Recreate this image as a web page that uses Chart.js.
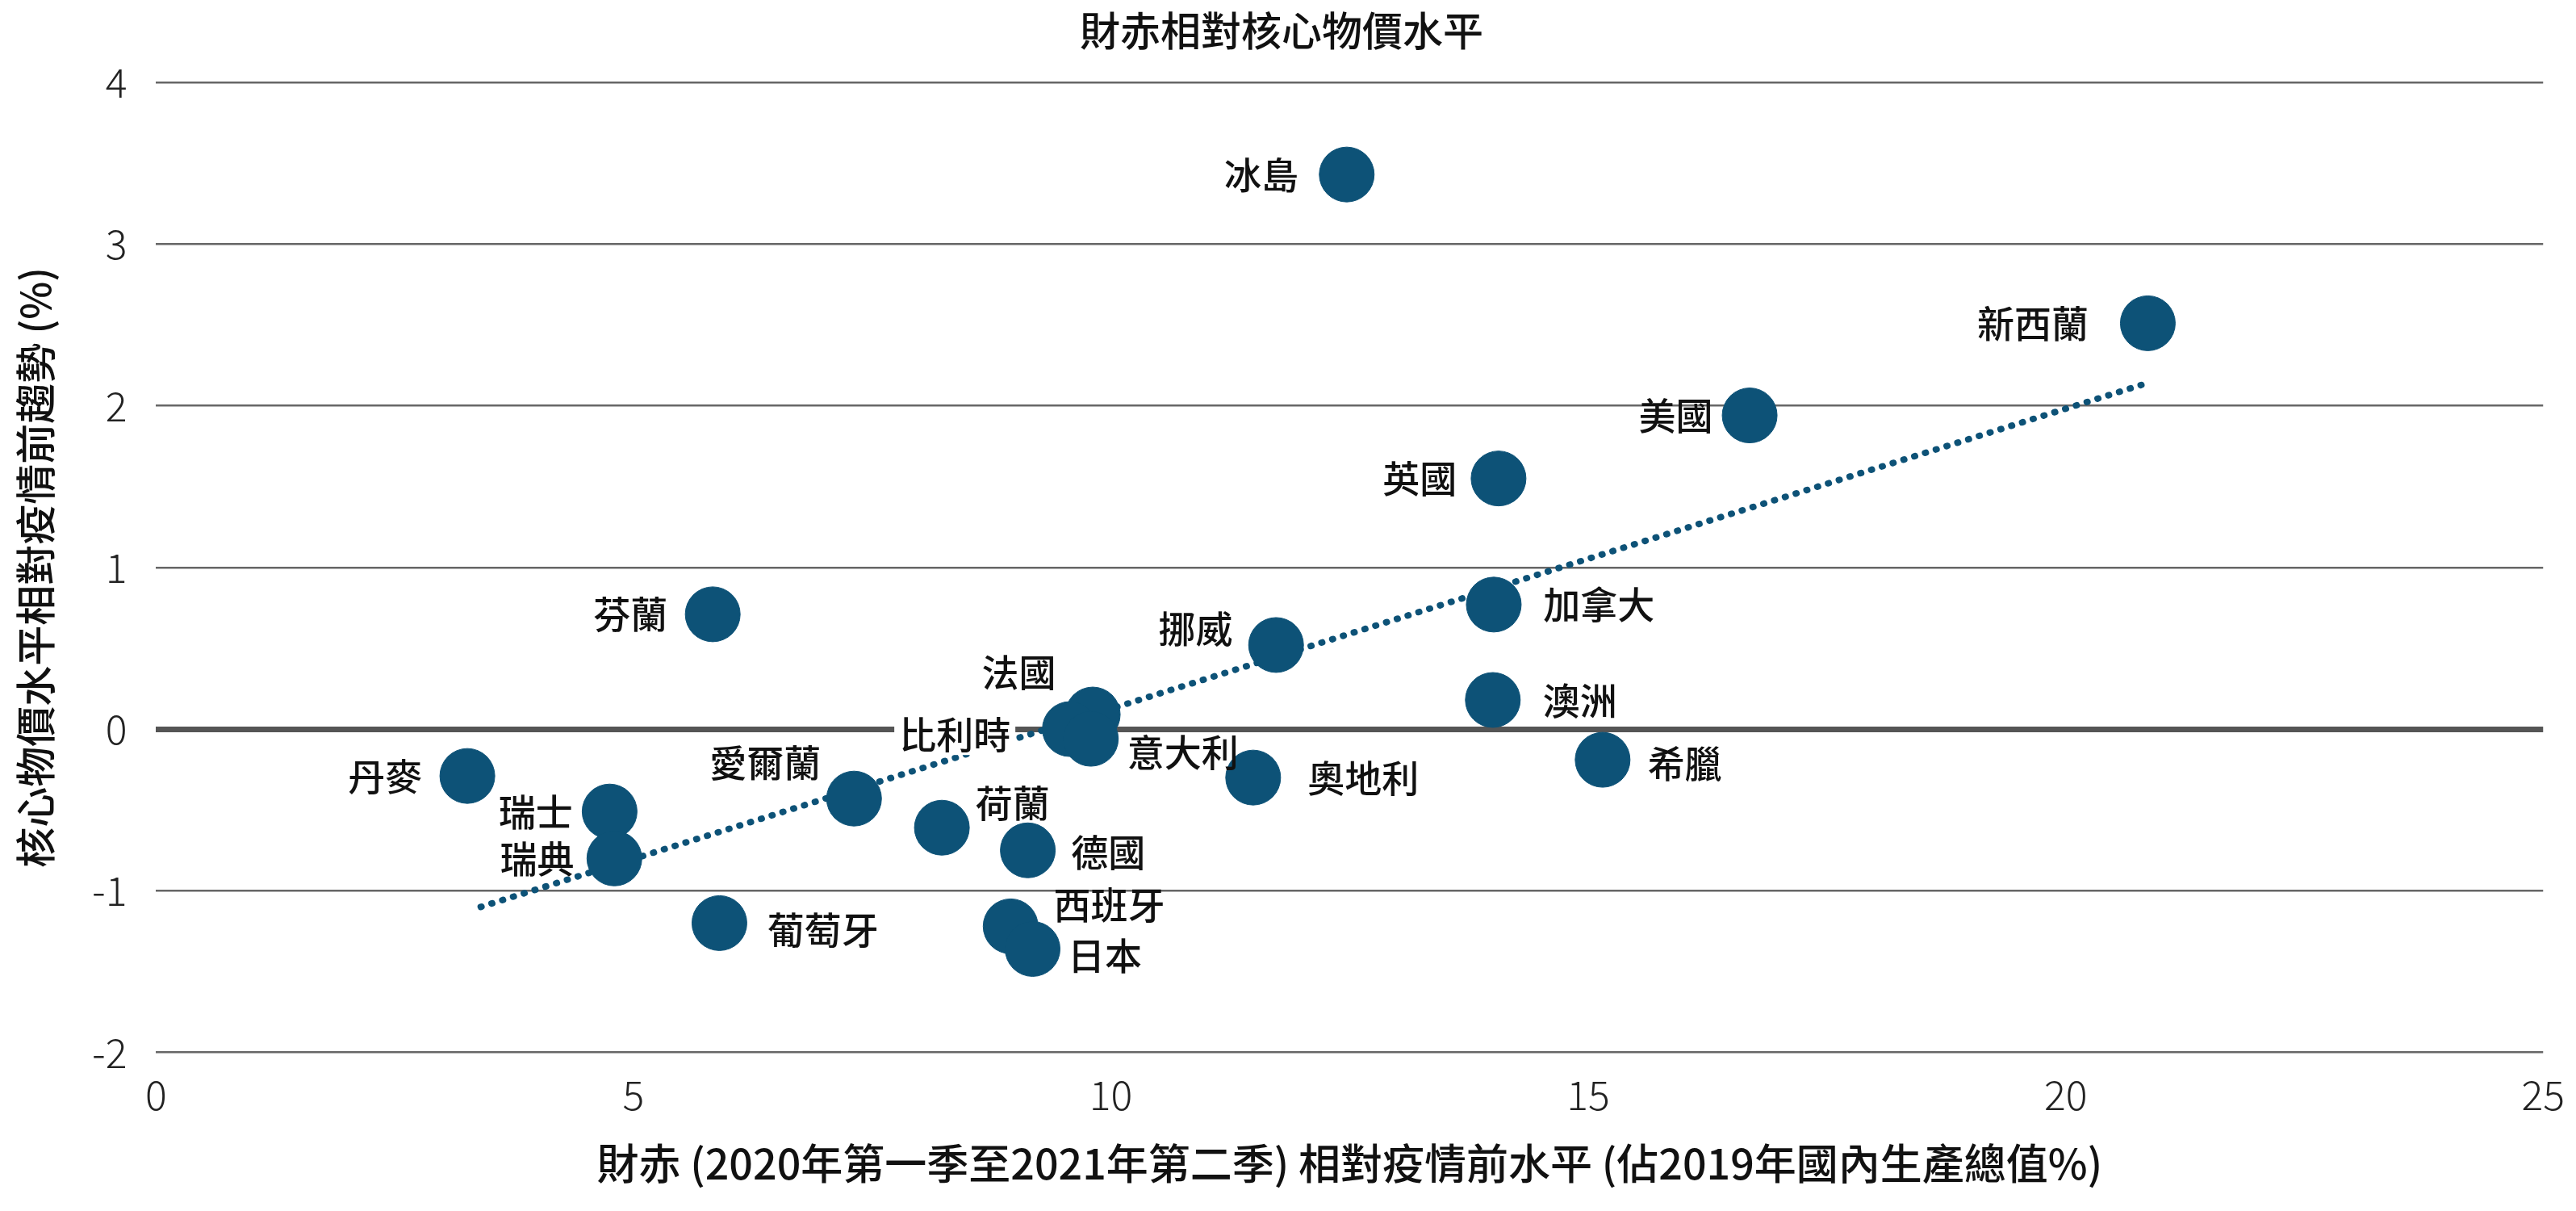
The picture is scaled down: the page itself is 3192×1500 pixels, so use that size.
<!DOCTYPE html>
<html>
<head>
<meta charset="utf-8">
<script src="https://cdn.jsdelivr.net/npm/chart.js@4/dist/chart.umd.min.js"></script>
<style>
  html, body { margin: 0; padding: 0; background: #fff; }
  #wrap { width: 3192px; height: 1500px; }
</style>
</head>
<body>
<div id="wrap"><canvas id="c"></canvas></div>
<script>
// Data
const countries = ['冰島','新西蘭','美國','英國','加拿大','澳洲','希臘','挪威','芬蘭','法國','比利時','意大利','奧地利','丹麥','瑞士','瑞典','愛爾蘭','荷蘭','德國','葡萄牙','西班牙','日本'];
const deficit = [12.47, 20.86, 16.69, 14.06, 14.01, 14.0, 15.15, 11.73, 5.83, 9.81, 9.57, 9.79, 11.49, 3.26, 4.75, 4.8, 7.31, 8.23, 9.13, 5.9, 8.95, 9.18];
const coreGap = [3.43, 2.51, 1.94, 1.55, 0.77, 0.18, -0.19, 0.52, 0.71, 0.09, 0.0, -0.06, -0.30, -0.29, -0.51, -0.80, -0.43, -0.61, -0.75, -1.2, -1.22, -1.36];
const trendX = [3.4, 20.8];
const trendY = [-1.1, 2.13];
const yTicks = [-2, -1, 0, 1, 2, 3, 4];
const xTicks = [0, 5, 10, 15, 20, 25];

// label offsets (in px) relative to each point
const S = 2.036;
const labelOffsets = [[-52,0],[-70,0],[-45,0],[-48,0],[64,0],[53,0],[50,2],[-49,-10],[-50,0],[-45,-26],[-70,3],[56,8],[67,0],[-50,0],[-45,0],[-47,0],[-54,-22],[43,-15],[49,1],[63,4],[60,-13],[44,4]];
const boxed = ['比利時','愛爾蘭'];

const FONT = '"Noto Sans CJK TC", "Noto Sans", sans-serif';
const blue = '#0d5277';

const labelPlugin = {
  id: 'labels',
  afterDatasetsDraw(chart) {
    const ctx = chart.ctx;
    const meta = chart.getDatasetMeta(1);
    ctx.save();
    ctx.font = '500 46px ' + FONT;
    ctx.textBaseline = 'middle';
    ctx.textAlign = 'center';
    meta.data.forEach((pt, i) => {
      const x = pt.x + labelOffsets[i][0] * S;
      const y = pt.y + labelOffsets[i][1] * S;
      const name = countries[i];
      if (boxed.includes(name)) {
        const w = ctx.measureText(name).width;
        ctx.fillStyle = '#fff';
        ctx.fillRect(x - w / 2 - 6, y - 26, w + 12, 52);
      }
      ctx.fillStyle = '#111';
      ctx.fillText(name, x, y);
    });
    ctx.restore();
  }
};

new Chart(document.getElementById('c'), {
  type: 'scatter',
  data: {
    datasets: [
      {
        type: 'line',
        data: trendX.map((x, i) => ({ x, y: trendY[i] })),
        borderColor: blue,
        borderWidth: 8,
        borderDash: [1, 13],
        borderCapStyle: 'round',
        pointRadius: 0,
        fill: false,
        order: 2
      },
      {
        data: deficit.map((x, i) => ({ x, y: coreGap[i] })),
        backgroundColor: blue,
        borderColor: blue,
        pointRadius: 34,
        pointHoverRadius: 34,
        order: 1
      }
    ]
  },
  options: {
    responsive: true,
    maintainAspectRatio: false,
    animation: false,
    layout: { padding: { left: 10, right: 26, top: 0, bottom: 24 } },
    plugins: {
      legend: { display: false },
      tooltip: { enabled: false },
      title: {
        display: true,
        text: '財赤相對核心物價水平',
        color: '#111',
        font: { family: FONT, size: 50, weight: '500' },
        padding: { top: 8, bottom: 34 }
      }
    },
    scales: {
      x: {
        type: 'linear',
        min: 0, max: 25,
        afterBuildTicks: a => { a.ticks = xTicks.map(v => ({ value: v })); },
        grid: { display: false },
        border: { display: false },
        ticks: { color: '#222', font: { family: FONT, size: 50, weight: '300' }, padding: 14 },
        title: {
          display: true,
          text: '財赤 (2020年第一季至2021年第二季) 相對疫情前水平 (佔2019年國內生產總值%)',
          color: '#111',
          font: { family: FONT, size: 52, weight: '500' },
          padding: { top: 10 }
        }
      },
      y: {
        min: -2, max: 4,
        afterBuildTicks: a => { a.ticks = yTicks.map(v => ({ value: v })); },
        grid: {
          color: ctx => ctx.tick && ctx.tick.value === 0 ? '#555' : '#666',
          lineWidth: ctx => ctx.tick && ctx.tick.value === 0 ? 7 : 2.5,
          drawTicks: false
        },
        border: { display: false },
        ticks: { color: '#222', font: { family: FONT, size: 50, weight: '300' }, padding: 36 },
        title: {
          display: true,
          text: '核心物價水平相對疫情前趨勢 (%)',
          color: '#111',
          font: { family: FONT, size: 50, weight: '500' },
          padding: { bottom: 4 }
        }
      }
    }
  },
  plugins: [labelPlugin]
});
</script>
</body>
</html>
